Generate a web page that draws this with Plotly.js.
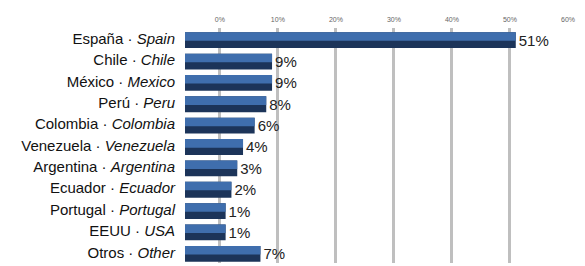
<!DOCTYPE html>
<html>
<head>
<meta charset="utf-8">
<script src="https://cdn.plot.ly/plotly-3.0.1.min.js"></script>
<style>html,body{margin:0;padding:0;background:#fff;}#chart{width:585px;height:266px;}</style>
</head>
<body>
<div id="chart"></div>
<script>
// Data
const namesEs = ["España", "Chile", "México", "Perú", "Colombia", "Venezuela", "Argentina", "Ecuador", "Portugal", "EEUU", "Otros"];
const namesEn = ["Spain", "Chile", "Mexico", "Peru", "Colombia", "Venezuela", "Argentina", "Ecuador", "Portugal", "USA", "Other"];
const values = [51, 9, 9, 8, 6, 4, 3, 2, 1, 1, 7];
const tickVals = [0, 10, 20, 30, 40, 50, 60];
const tickText = ["0%", "10%", "20%", "30%", "40%", "50%", "60%"];

const categories = namesEs.map((n, i) => n + " · <i>" + namesEn[i] + "</i>");
const labels = values.map(v => v + "%");

const BASE = -6; // visual depth of the 3D bars' back edge (bars drawn from BASE up to the value)
const lengths = values.map(v => v - BASE);

const FONT = '"Liberation Sans", Arial, Helvetica, sans-serif';

const darkBars = {
  type: 'bar', orientation: 'h',
  y: categories, x: lengths, base: BASE,
  width: 0.74, offset: -0.3,
  marker: {color: '#1c3459', line: {width: 0}},
  text: labels, textposition: 'outside', cliponaxis: false,
  constraintext: 'none',
  textfont: {size: 15, color: '#222', family: FONT},
  hoverinfo: 'skip'
};
const lightBars = {
  type: 'bar', orientation: 'h',
  y: categories, x: lengths, base: BASE,
  width: 0.4, offset: -0.3,
  marker: {color: '#3f6ead', line: {width: 0}},
  hoverinfo: 'skip'
};

const layout = {
  width: 585, height: 266,
  margin: {l: 185, r: 17, t: 28, b: 3},
  paper_bgcolor: '#fff', plot_bgcolor: '#fff',
  barmode: 'overlay',
  showlegend: false,
  font: {family: FONT, color: '#111'},
  xaxis: {
    side: 'top', range: [BASE, 60],
    tickvals: tickVals, ticktext: tickText,
    tickfont: {size: 7, color: '#666', family: FONT},
    ticklabelstandoff: 4,
    showgrid: true, gridcolor: '#bfbfbf', gridwidth: 3,
    zeroline: false, showline: false, ticks: '', fixedrange: true
  },
  yaxis: {
    autorange: 'reversed', type: 'category',
    tickfont: {size: 15, color: '#111', family: FONT},
    ticks: '', ticklabelstandoff: 9,
    showgrid: false, zeroline: false, showline: false, fixedrange: true
  }
};

Plotly.newPlot('chart', [darkBars, lightBars], layout, {displayModeBar: false, staticPlot: true});
</script>
</body>
</html>
